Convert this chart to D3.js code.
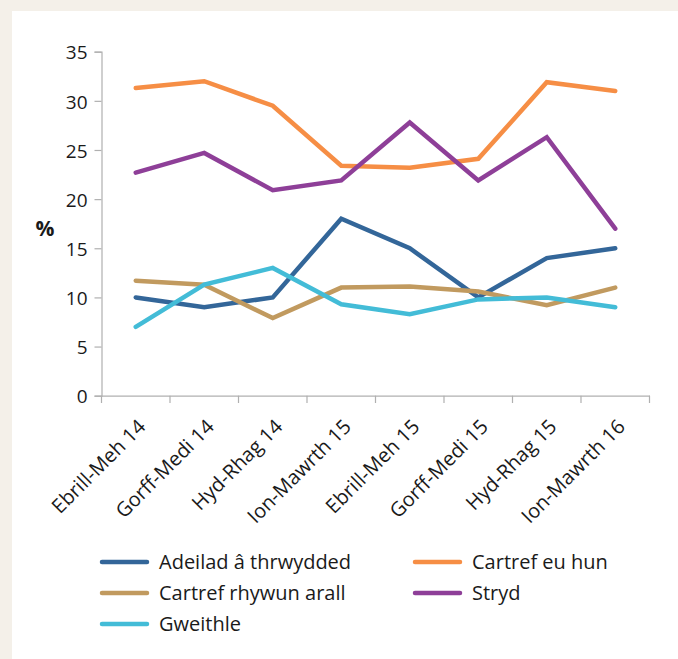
<!DOCTYPE html>
<html><head><meta charset="utf-8">
<script src="https://cdn.jsdelivr.net/npm/d3@7"></script>
<style>
html,body{margin:0;padding:0;background:#f4f0e9;}
svg{display:block;}
text{font-family:"Open Sans","Noto Sans",sans-serif;fill:#1a1a1a;}
</style></head><body>
<script>
const categories = ["Ebrill-Meh 14","Gorff-Medi 14","Hyd-Rhag 14","Ion-Mawrth 15","Ebrill-Meh 15","Gorff-Medi  15","Hyd-Rhag 15","Ion-Mawrth 16"];
const seriesNames = ["Adeilad â thrwydded","Cartref eu hun","Cartref rhywun arall","Stryd","Gweithle"];
const adeilad = [10, 9, 10, 18, 15, 10, 14, 15];
const cartrefEuHun = [31.3, 32, 29.5, 23.4, 23.2, 24.1, 31.9, 31];
const cartrefRhywun = [11.7, 11.3, 7.9, 11, 11.1, 10.6, 9.2, 11];
const stryd = [22.7, 24.7, 20.9, 21.9, 27.8, 21.9, 26.3, 17];
const gweithle = [7, 11.3, 13, 9.3, 8.3, 9.8, 10, 9];
const yTicks = [0,5,10,15,20,25,30,35];
const colors = ["#336699","#f68e45","#c19a5f","#8e3f98","#43bcd7"];

const seriesValues = [adeilad, cartrefEuHun, cartrefRhywun, stryd, gweithle];
const drawOrder = [1,3,0,2,4];

const W = 678, H = 659;
const svg = d3.select("body").append("svg").attr("width",W).attr("height",H);
svg.append("rect").attr("x",0).attr("y",0).attr("width",W).attr("height",H).attr("fill","#f4f0e9");
svg.append("rect").attr("x",12).attr("y",11).attr("width",W-12).attr("height",H-11).attr("fill","#ffffff");

const x = d3.scaleBand().domain(categories).range([101.5,649.5]);
const y = d3.scaleLinear().domain([0,35]).range([395.7,51.7]);

// y axis
const yAxis = svg.append("g").attr("transform","translate(101.5,0)")
  .call(d3.axisLeft(y).tickValues(yTicks).tickSize(7).tickPadding(7));
yAxis.select(".domain").attr("stroke","#b0b0b0").attr("stroke-width",1.2);
yAxis.selectAll(".tick line").attr("stroke","#b0b0b0").attr("stroke-width",1.2);
yAxis.selectAll(".tick text").style("font-size","19px").attr("fill","#1a1a1a").attr("dy","0.38em");

// x axis
const xAxis = svg.append("g").attr("transform","translate(0,395.7)")
  .call(d3.axisBottom(x).tickSize(0).tickFormat(""));
xAxis.select(".domain").attr("stroke","#b0b0b0").attr("stroke-width",1.2);
const boundaries = categories.map(c => x(c)).concat([x.range()[1]]);
svg.append("g").selectAll("line").data(boundaries).join("line")
  .attr("x1",d=>d).attr("x2",d=>d).attr("y1",395.7).attr("y2",403)
  .attr("stroke","#b0b0b0").attr("stroke-width",1.2);

svg.append("g").selectAll("text").data(categories).join("text")
  .attr("transform",d=>`translate(${x(d)+x.bandwidth()/2+11},${428}) rotate(-45)`)
  .attr("text-anchor","end")
  .style("font-size","20px")
  .text(d=>d);

// % label
svg.append("text").attr("x",45).attr("y",229).attr("text-anchor","middle")
  .attr("dy","0.35em").style("font-size","21px").style("font-weight","bold").text("%");

const line = d3.line()
  .x((d,i)=>x(categories[i])+x.bandwidth()/2)
  .y(d=>y(d));

svg.append("g").selectAll("path").data(drawOrder).join("path")
  .attr("d",k=>line(seriesValues[k]))
  .attr("fill","none")
  .attr("stroke",k=>colors[k])
  .attr("stroke-width",4.5)
  .attr("stroke-linejoin","miter")
  .attr("stroke-linecap","round");

// legend
const legendPos = [
  {x:102,y:562},{x:415,y:562},
  {x:102,y:593},{x:415,y:593},
  {x:102,y:624}
];
const leg = svg.append("g").selectAll("g").data(seriesNames).join("g")
  .attr("transform",(d,i)=>`translate(${legendPos[i].x},${legendPos[i].y})`);
leg.append("line").attr("x1",0).attr("x2",45).attr("y1",0).attr("y2",0)
  .attr("stroke",(d,i)=>colors[i]).attr("stroke-width",4.5).attr("stroke-linecap","round");
leg.append("text").attr("x",57).attr("y",0).attr("dy","0.35em")
  .style("font-size","20px").text(d=>d);
</script>
</body></html>
